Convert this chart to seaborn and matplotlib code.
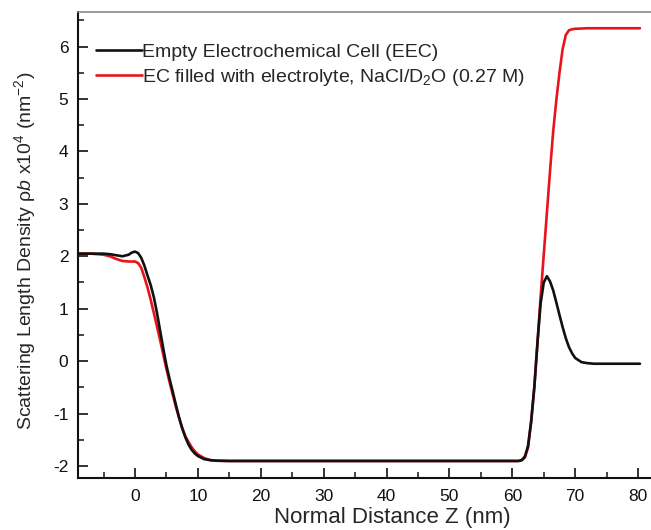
import numpy as np
import pandas as pd
import matplotlib
matplotlib.use("Agg")
import matplotlib.pyplot as plt
from matplotlib.ticker import MultipleLocator, FixedLocator
import seaborn as sns

# ---- data ----
z_eec = [-9.1, -7, -5, -4, -3, -2, -1, -0.5, 0, 0.5, 1, 1.5, 2, 2.5, 3, 3.5, 4, 4.5,
         5, 5.5, 6, 6.5, 7, 7.5, 8, 8.5, 9, 9.5, 10, 11, 12, 13, 15, 20, 30, 40, 50,
         60, 61, 61.5, 62, 62.5, 63, 63.5, 64, 64.5, 65, 65.5, 66, 66.5, 67, 67.5,
         68, 68.5, 69, 69.5, 70, 71, 72, 73, 75, 80.3]
sld_eec = [2.05, 2.05, 2.05, 2.04, 2.02, 2.00, 2.03, 2.07, 2.09, 2.06, 1.97, 1.82,
           1.63, 1.45, 1.22, 0.92, 0.58, 0.24, -0.08, -0.34, -0.58, -0.83, -1.07,
           -1.28, -1.45, -1.59, -1.69, -1.76, -1.81, -1.87, -1.89, -1.90, -1.905,
           -1.905, -1.905, -1.905, -1.905, -1.905, -1.905, -1.89, -1.82, -1.62,
           -1.15, -0.50, 0.35, 1.10, 1.50, 1.62, 1.52, 1.35, 1.12, 0.88, 0.65, 0.44,
           0.27, 0.15, 0.06, -0.02, -0.04, -0.05, -0.05, -0.05]

z_ec = [-9.1, -7, -5, -4, -3, -2, -1, 0, 0.5, 1, 1.5, 2, 2.5, 3, 3.5, 4, 4.5, 5,
        5.5, 6, 6.5, 7, 7.5, 8, 8.5, 9, 9.5, 10, 11, 12, 13, 15, 20, 30, 40, 50, 60,
        61, 61.5, 62, 62.5, 63, 63.5, 64, 64.5, 65, 65.5, 66, 66.5, 67, 67.5, 68,
        68.5, 69, 69.5, 70, 72, 80.3]
sld_ec = [2.05, 2.05, 2.03, 2.00, 1.95, 1.91, 1.90, 1.90, 1.87, 1.78, 1.60, 1.40,
          1.17, 0.92, 0.66, 0.40, 0.12, -0.15, -0.40, -0.64, -0.87, -1.08, -1.27,
          -1.43, -1.54, -1.64, -1.72, -1.78, -1.85, -1.89, -1.90, -1.905, -1.905,
          -1.905, -1.905, -1.905, -1.905, -1.905, -1.89, -1.84, -1.65, -1.15, -0.50,
          0.35, 1.22, 2.03, 2.83, 3.63, 4.38, 4.98, 5.50, 5.95, 6.22, 6.31, 6.33,
          6.34, 6.35, 6.35]

x_ticks = [0, 10, 20, 30, 40, 50, 60, 70, 80]
x_minor = [-5, 5, 15, 25, 35, 45, 55, 65, 75]

label_eec = "Empty Electrochemical Cell (EEC)"
label_ec = r"EC filled with electrolyte, NaCl/D$_2$O (0.27 M)"

# ---- styling ----
sns.set_style("ticks")
plt.rcParams["font.family"] = ["Liberation Sans", "DejaVu Sans"]
plt.rcParams["mathtext.fontset"] = "custom"
plt.rcParams["mathtext.rm"] = "Liberation Sans"
plt.rcParams["mathtext.it"] = "Liberation Sans:italic"
plt.rcParams["mathtext.bf"] = "Liberation Sans:bold"
plt.rcParams["axes.unicode_minus"] = False

fig = plt.figure(figsize=(6.51, 5.30), dpi=100)
W, H = 651, 530
left, right, top, bottom = 78, 706, 12, 478
ax = fig.add_axes([left / W, 1 - bottom / H, (right - left) / W, (bottom - top) / H])

df_ec = pd.DataFrame({"z": z_ec, "sld": sld_ec})
df_eec = pd.DataFrame({"z": z_eec, "sld": sld_eec})

sns.lineplot(data=df_ec, x="z", y="sld", ax=ax, color="#e8141c", lw=1.9,
             estimator=None, sort=False, label=label_ec)
sns.lineplot(data=df_eec, x="z", y="sld", ax=ax, color="#111111", lw=1.9,
             estimator=None, sort=False, label=label_eec)

ax.set_xlim(-9.06, 90.8)
ax.set_ylim(-2.23, 6.66)

ax.xaxis.set_major_locator(FixedLocator(x_ticks))
ax.xaxis.set_minor_locator(FixedLocator(x_minor))
ax.yaxis.set_major_locator(MultipleLocator(1))
ax.yaxis.set_minor_locator(MultipleLocator(0.5))

ax.tick_params(axis="both", which="major", direction="in", length=7, width=1.2,
               labelsize=12.5, colors="#111111")
ax.tick_params(axis="both", which="minor", direction="in", length=4, width=1.2)
ax.tick_params(axis="y", which="major", pad=7)
ax.tick_params(axis="x", which="major", pad=8)

for s in ["left", "bottom"]:
    ax.spines[s].set_linewidth(1.5)
    ax.spines[s].set_color("#111111")
ax.spines["right"].set_visible(False)
ax.spines["top"].set_color("#8a8a8a")
ax.spines["top"].set_linewidth(1.2)

ax.set_xlabel("Normal Distance Z (nm)", fontsize=16, labelpad=2)
ax.set_ylabel(r"Scattering Length Density ρ$\mathit{b}$ x10$^{4}$ (nm$^{-2}$)",
              fontsize=14)
ax.yaxis.set_label_coords(-0.064, 0.487)

h, l = ax.get_legend_handles_labels()
ax.legend([h[1], h[0]], [l[1], l[0]], loc="upper left",
          bbox_to_anchor=(0.028, 0.932), frameon=False, fontsize=14,
          handlelength=2.4, handletextpad=0.0, labelspacing=0.28,
          borderpad=0, borderaxespad=0)

fig.savefig("out.png", dpi=100)
